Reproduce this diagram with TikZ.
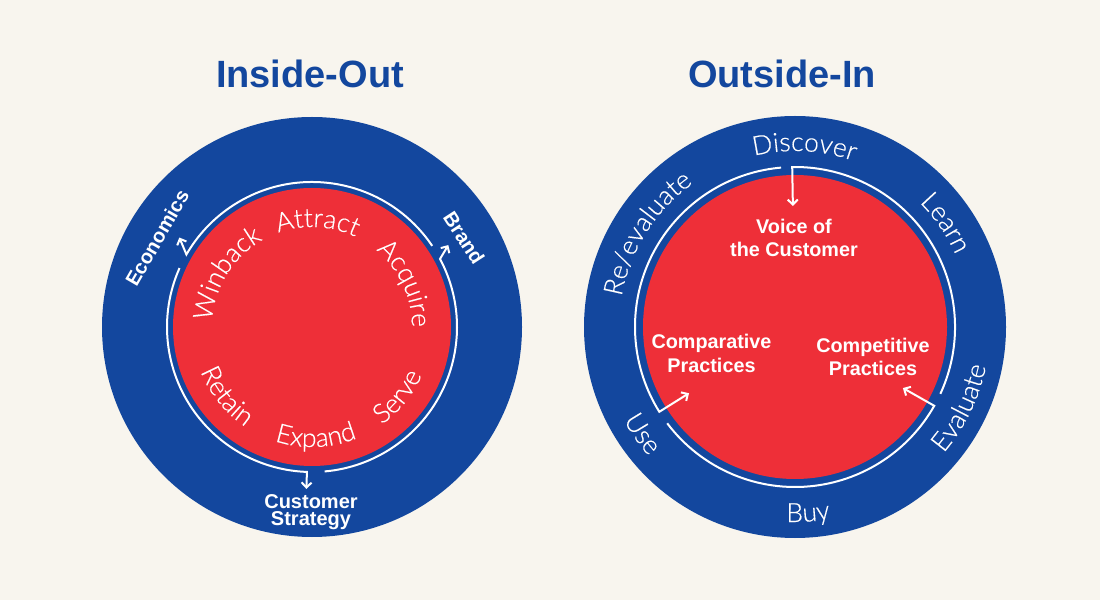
\documentclass[tikz,border=0pt]{standalone}
\usepackage{fontspec}
\setmainfont{Liberation Sans}
\newfontfamily\lightfont{Lato Light}[BoldFont={Lato Light}, BoldFeatures={FakeBold=0.4}]
\usetikzlibrary{arrows.meta,calc,decorations.text}
\definecolor{bg}{HTML}{F8F5EE}
\definecolor{navy}{HTML}{13479E}
\definecolor{crimson}{HTML}{EE2F38}
\newcommand\arcTop[4]{\begingroup
  \path[decorate, decoration={text along path, text align=center, text color=white,
    text={|\lightfont\bfseries\fontsize{26.5}{26.5}\selectfont|#4}}]
    ($(#1)+(#3+60:#2)$) arc[start angle=#3+60, end angle=#3-60, radius=#2];\endgroup}
\newcommand\arcBot[4]{\begingroup
  \path[decorate, decoration={text along path, text align=center, text color=white,
    text={|\lightfont\bfseries\fontsize{26.5}{26.5}\selectfont|#4}}]
    ($(#1)+(#3-60:#2)$) arc[start angle=#3-60, end angle=#3+60, radius=#2];\endgroup}
\begin{document}
\begin{tikzpicture}[x=1pt,y=1pt,
  ring/.style={white, line width=2pt, line join=miter},
  arr/.style={ring, -{Straight Barb[length=5pt,width=10pt]}},
  lbl/.style={text=white, font=\normalfont\bfseries\fontsize{19.8}{23.5}\selectfont, align=center, inner sep=0pt},
  ttl/.style={text=navy, font=\normalfont\bfseries\fontsize{38}{40}\selectfont, inner sep=0pt}]
\fill[bg] (0,0) rectangle (1100,600);
\useasboundingbox (0,0) rectangle (1100,600);
\coordinate (L) at (312,273);
\coordinate (R) at (795,273);
\node[ttl, anchor=base] (t1) at (310,512) {Inside-Out};
\node[ttl, anchor=base] (t2) at (782,512) {Outside-In};
% circles
\fill[navy] (L) circle[radius=210pt];
\fill[crimson] (L) circle[radius=139pt];
\fill[navy] (R) circle[radius=211pt];
\fill[crimson] (R) circle[radius=152pt];
% left ring arcs
\coordinate (brandS) at ($(L)+(34:145pt)$);
\coordinate (ecoT) at ($(L)+(146:160pt)$);
\coordinate (csS) at ($(L)+(275:145pt)$);
\coordinate (brandT) at ($(L)+(31:159pt)$);
\coordinate (ecoS) at ($(L)+(156:145pt)$);
\coordinate (csT) at ($(L)+(268:162pt)$);
\draw[arr] (brandS) arc[start angle=34, end angle=150, radius=145pt] -- (ecoT);
\draw[arr] (csS) arc[start angle=275, end angle=388, radius=145pt] -- (brandT);
\draw[arr] (ecoS) arc[start angle=156, end angle=268, radius=145pt] -- (csT);
% right ring arcs
\coordinate (evS) at ($(R)+(-24.7:160pt)$);
\coordinate (vocT) at ($(R)+(91:121pt)$);
\coordinate (useS) at ($(R)+(217:160pt)$);
\coordinate (cptT) at ($(R)+(330.5:124pt)$);
\coordinate (disS) at ($(R)+(95:160pt)$);
\coordinate (cmpT) at ($(R)+(212:125pt)$);
\draw[arr] (evS) arc[start angle=-24.7, end angle=91, radius=160pt] -- (vocT);
\draw[arr] (useS) arc[start angle=217, end angle=330.5, radius=160pt] -- (cptT);
\draw[arr] (disS) arc[start angle=95, end angle=212, radius=160pt] -- (cmpT);
% bold labels
\node[lbl, font=\normalfont\bfseries\fontsize{20}{20}\selectfont, rotate=60] (eco) at (157,362) {Economics};
\node[lbl, font=\normalfont\bfseries\fontsize{20}{20}\selectfont, rotate=-57] (brand) at (464,362) {Brand};
\node[lbl, font=\normalfont\bfseries\fontsize{20}{17.5}\selectfont] (cs) at (311,88) {Customer\\Strategy};
\node[lbl] (voc) at (794,362) {Voice of\\the Customer};
\node[lbl] (cmp) at (711.5,246.5) {Comparative\\Practices};
\node[lbl] (cpt) at (873,243) {Competitive\\Practices};
% left curved texts
\arcTop{L}{100pt}{148}{Winback}
\arcTop{L}{100pt}{87}{Attract}
\arcTop{L}{100pt}{25}{Acquire}
\arcBot{L}{120pt}{-39}{Serve}
\arcBot{L}{120pt}{-88}{Expand}
\arcBot{L}{120pt}{-141}{Retain}
% right curved texts
\arcTop{R}{176pt}{147.7}{Re/evaluate}
\arcTop{R}{176pt}{87}{Discover}
\arcTop{R}{176pt}{34.6}{Learn}
\arcBot{R}{195pt}{-26}{Evaluate}
\arcBot{R}{195pt}{-86}{Buy}
\arcBot{R}{195pt}{-145}{Use}
\end{tikzpicture}
\end{document}
